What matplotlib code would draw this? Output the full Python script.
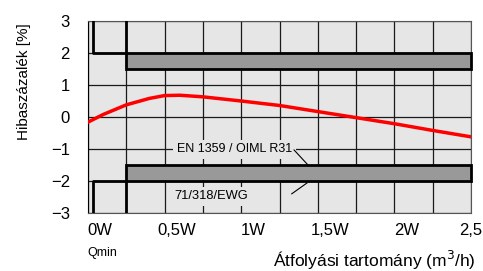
#!/usr/bin/env python3

import matplotlib.pyplot as plt
import matplotlib.transforms as mtransforms
from matplotlib.ticker import MultipleLocator

plt.rcParams["font.family"] = ["Liberation Sans", "DejaVu Sans"]

# error curve (flow in W, error in %)
flow = [0, 0.1, 0.25, 0.4, 0.5, 0.6, 0.75, 1.0, 1.25, 1.5, 1.75, 2.0, 2.25, 2.5]
error = [-0.16, 0.08, 0.38, 0.58, 0.67, 0.68, 0.63, 0.5, 0.36, 0.17, -0.02, -0.21, -0.42, -0.62]

# error limit bands
band_start = 0.25
band_end = 2.5
band_low = [1.5, -2.0]
band_high = [2.0, -1.5]
qmin = 0.03
outer_limit = 2.0

x_ticks = [0, 0.5, 1.0, 1.5, 2.0, 2.5]
x_labels = ["0W", "0,5W", "1W", "1,5W", "2W", "2,5"]
y_ticks = [-3, -2, -1, 0, 1, 2, 3]

fig = plt.figure(figsize=(4.83, 2.71), dpi=100)
ax = fig.add_axes([88 / 483, 1 - 213 / 271, 383 / 483, 192 / 271])
ax.set_facecolor("#e6e6e6")
ax.set_xlim(0, 2.5)
ax.set_ylim(-3, 3)

ax.set_axisbelow(True)
ax.xaxis.set_minor_locator(MultipleLocator(0.25))
ax.set_xticks(x_ticks)
ax.set_xticklabels(x_labels)
ax.set_yticks(y_ticks)
ax.grid(True, which="both", color="#1a1a1a", lw=0.9)
ax.tick_params(which="both", length=0)
ax.tick_params(axis="x", pad=7, labelsize=12)
ax.tick_params(axis="y", pad=13, labelsize=12)
offset = mtransforms.ScaledTranslation(0.12, 0, fig.dpi_scale_trans)
for lab in ax.get_xticklabels()[:-1]:
    lab.set_transform(lab.get_transform() + offset)
# last label sits at the right edge like in the original
last = ax.get_xticklabels()[-1]
last.set_transform(last.get_transform() + mtransforms.ScaledTranslation(0.0, 0, fig.dpi_scale_trans))
for name, sp in ax.spines.items():
    sp.set_color("#555555")
ax.spines["left"].set_color("black")

# gray tolerance bands
for lo, hi in zip(band_low, band_high):
    ax.bar(band_start, hi - lo, width=band_end - band_start, bottom=lo, align="edge",
           color="#999999", edgecolor="black", lw=2, zorder=3, clip_on=False)

# Qmin steps
ax.plot([qmin, qmin, band_start, band_start], [3, outer_limit, outer_limit, 3],
        color="black", lw=2, zorder=3)
ax.plot([qmin, qmin, band_start, band_start], [-3, -outer_limit, -outer_limit, -3],
        color="black", lw=2, zorder=3)

ax.plot(flow, error, color="red", lw=2.5, zorder=4)

# annotations
ax.text(0.956, -1.0, "EN 1359 / OIML R31", ha="center", va="center", fontsize=9,
        zorder=5, bbox=dict(facecolor="#e6e6e6", edgecolor="none", pad=2.5))
ax.plot([1.345, 1.436], [-1.03, -1.5], color="black", lw=0.8, zorder=5)
ax.text(0.805, -2.47, "71/318/EWG", ha="center", va="center", fontsize=9.3,
        zorder=5, bbox=dict(facecolor="#e6e6e6", edgecolor="none", pad=2.5))
ax.plot([1.33, 1.43], [-2.4, -2.06], color="black", lw=0.8, zorder=5)

fig.text(102 / 483, 1 - 253 / 271, "Qmin", ha="center", va="center", fontsize=9)
fig.text(24 / 483, 1 - 82 / 271, "Hibaszázalék [%]", rotation=90,
         ha="center", va="center", fontsize=11)
fig.text(475 / 483, 4 / 271, "Átfolyási tartomány (m$^3$/h)", ha="right",
         va="baseline", fontsize=12.5)

plt.savefig("out.png", dpi=100)
